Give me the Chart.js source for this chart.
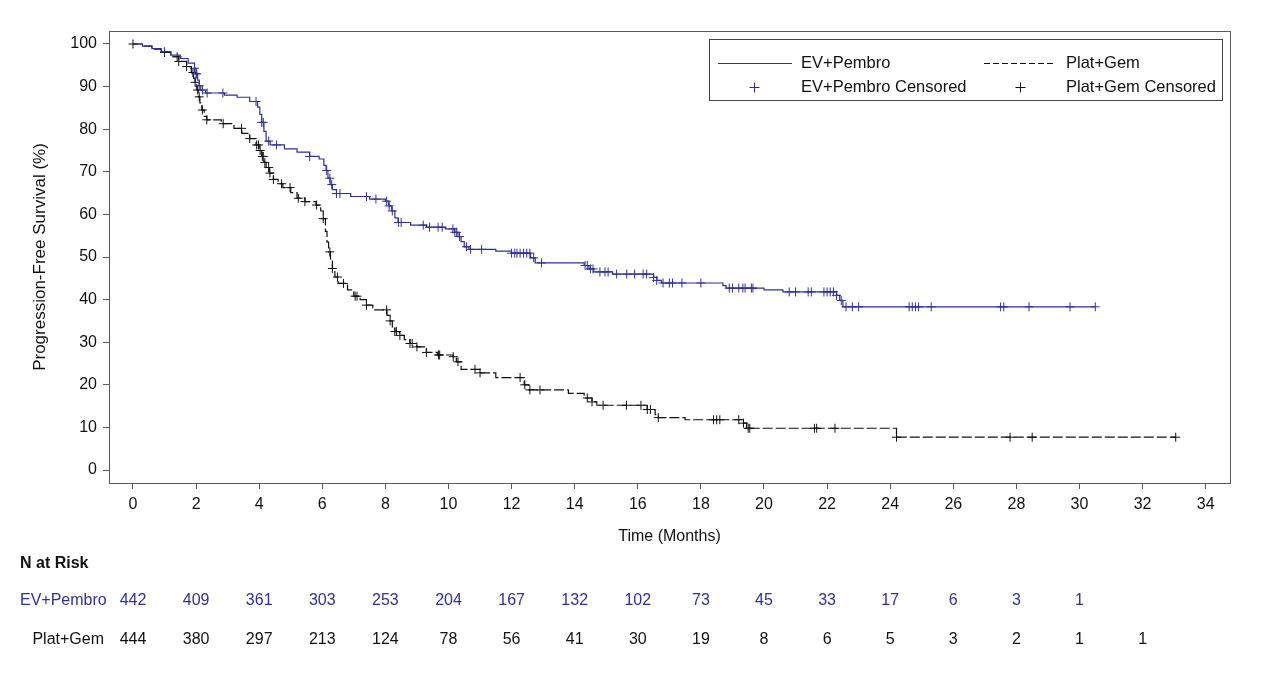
<!DOCTYPE html>
<html>
<head>
<meta charset="utf-8">
<script src="https://cdn.jsdelivr.net/npm/chart.js@4.4.1/dist/chart.umd.min.js"></script>
<style>
  body { margin: 0; background: #fff; }
  #wrap { width: 1263px; height: 675px; }
</style>
</head>
<body>
<div id="wrap"><canvas id="km" width="1263" height="675"></canvas></div>
<script>
// Kaplan-Meier steps: time of drop (months) and PFS (%) after that drop
const evTimes = [0, 0.3, 0.6, 0.9, 1.2, 1.5, 1.75, 1.95, 2.0, 2.05, 2.1, 2.15, 2.3, 2.9, 3.3, 3.7, 3.95, 4.02, 4.08, 4.15, 4.22, 4.35, 4.8, 5.2, 5.6, 5.9, 6.05, 6.12, 6.18, 6.25, 6.32, 6.45, 6.9, 7.5, 8.0, 8.1, 8.2, 8.3, 8.4, 8.8, 9.3, 9.9, 10.2, 10.3, 10.4, 10.5, 10.65, 11.5, 12.0, 12.6, 12.75, 14.3, 14.45, 14.6, 15.2, 16.5, 16.6, 16.75, 18.7, 18.8, 20.0, 20.6, 22.3, 22.4, 22.5, 30.5];
const evSurv = [100, 99.5, 98.9, 98.2, 97.4, 96.6, 95.5, 94.3, 93.0, 91.5, 90.2, 89.2, 88.5, 88.0, 87.5, 86.5, 85.2, 83.5, 81.6, 79.5, 77.2, 76.3, 75.4, 74.6, 73.6, 73.0, 71.5, 70.3, 68.5, 67.0, 65.8, 64.9, 64.2, 63.6, 63.1, 62.0, 60.8, 59.2, 58.1, 57.5, 57.0, 56.6, 55.8, 54.8, 53.6, 52.4, 51.8, 51.4, 50.9, 49.8, 48.6, 48.0, 47.2, 46.5, 46.0, 45.2, 44.5, 43.9, 43.3, 42.7, 42.3, 41.8, 41.0, 39.8, 38.3, 38.3];

const pgTimes = [0, 0.3, 0.6, 0.9, 1.2, 1.45, 1.7, 1.85, 1.92, 1.97, 2.02, 2.07, 2.12, 2.18, 2.26, 2.34, 2.8, 3.2, 3.45, 3.7, 3.9, 4.0, 4.08, 4.15, 4.22, 4.32, 4.45, 4.6, 4.75, 5.0, 5.2, 5.45, 5.8, 5.95, 6.03, 6.1, 6.15, 6.2, 6.26, 6.32, 6.4, 6.5, 6.8, 7.0, 7.2, 7.4, 7.6, 8.05, 8.15, 8.22, 8.3, 8.45, 8.6, 8.78, 9.0, 9.3, 9.65, 10.15, 10.25, 10.4, 11.0, 11.5, 12.4, 12.55, 13.8, 14.3, 14.55, 14.7, 16.3, 16.55, 16.65, 17.5, 19.35, 19.45, 24.2, 33.05];
const pgSurv = [100, 99.5, 98.8, 98.0, 97.0, 95.9, 94.7, 93.3, 92.0, 91.0, 89.2, 87.6, 86.2, 84.5, 83.0, 82.2, 81.3, 80.2, 79.0, 77.8, 76.3, 75.0, 73.6, 72.2, 71.0, 69.7, 68.2, 67.2, 66.3, 65.1, 63.8, 63.0, 62.2, 60.8, 59.0, 56.0, 53.5, 51.2, 49.5, 47.3, 45.3, 43.8, 42.3, 40.8, 40.0, 38.7, 37.6, 36.3, 35.0, 33.6, 32.5, 31.6, 30.6, 29.7, 28.9, 27.6, 27.0, 26.6, 25.4, 23.6, 22.8, 21.7, 20.0, 18.8, 18.0, 16.9, 16.0, 15.2, 14.2, 13.0, 12.3, 11.8, 11.0, 9.8, 7.7, 7.7];

// censoring times (months)
const evCensored = [1.0, 1.95, 2.0, 2.02, 2.1, 2.2, 2.35, 2.85, 3.9, 4.08, 4.13, 4.3, 4.55, 5.6, 6.14, 6.24, 6.3, 6.45, 6.56, 7.4, 7.7, 8.04, 8.12, 8.22, 8.42, 8.5, 9.2, 9.4, 9.67, 9.8, 10.14, 10.2, 10.26, 10.35, 10.57, 10.7, 11.05, 12.0, 12.1, 12.17, 12.27, 12.38, 12.48, 12.58, 12.7, 12.95, 14.33, 14.4, 14.5, 14.58, 14.8, 14.96, 15.06, 15.33, 15.65, 15.9, 16.17, 16.28, 16.5, 16.6, 16.8, 17.0, 17.1, 17.4, 18.0, 18.9, 19.0, 19.2, 19.33, 19.4, 19.6, 19.65, 20.8, 21.0, 21.4, 21.5, 21.9, 22.0, 22.1, 22.2, 22.3, 22.45, 22.6, 22.8, 23.0, 24.6, 24.7, 24.8, 24.9, 25.3, 27.5, 27.6, 28.4, 29.7, 30.5];
const pgCensored = [0, 1.0, 1.4, 1.45, 1.7, 1.9, 1.97, 2.05, 2.1, 2.2, 2.34, 2.86, 3.44, 3.7, 3.92, 3.98, 4.03, 4.1, 4.13, 4.18, 4.3, 4.34, 4.45, 4.71, 4.98, 5.24, 5.45, 5.82, 6.03, 6.24, 6.32, 6.48, 6.67, 7.04, 7.1, 7.4, 8.04, 8.15, 8.3, 8.35, 8.46, 8.78, 8.85, 9.0, 9.3, 9.68, 9.72, 10.15, 10.3, 10.84, 11.0, 12.27, 12.42, 12.58, 12.9, 14.4, 14.55, 14.9, 15.64, 16.1, 16.3, 16.4, 16.65, 18.4, 18.5, 18.6, 19.2, 19.35, 19.5, 19.55, 21.6, 21.67, 22.25, 24.2, 27.8, 28.5, 33.05];

const xTickValues = [0, 2, 4, 6, 8, 10, 12, 14, 16, 18, 20, 22, 24, 26, 28, 30, 32, 34];
const yTickValues = [0, 10, 20, 30, 40, 50, 60, 70, 80, 90, 100];

const riskTimes = [0, 2, 4, 6, 8, 10, 12, 14, 16, 18, 20, 22, 24, 26, 28, 30, 32];
const evRisk = [442, 409, 361, 303, 253, 204, 167, 132, 102, 73, 45, 33, 17, 6, 3, 1];
const pgRisk = [444, 380, 297, 213, 124, 78, 56, 41, 30, 19, 8, 6, 5, 3, 2, 1, 1];

const BLUE = "#30309a";
const BLACK = "#111111";
const AXIS = "#5a5a5a";
const FONT = "'Liberation Sans', Arial, sans-serif";

function survAt(times, surv, t) {
  let v = surv[0];
  for (let i = 0; i < times.length; i++) {
    if (times[i] <= t) v = surv[i];
  }
  return v;
}

function steps(times, surv) {
  return times.map((t, i) => ({ x: t, y: surv[i] }));
}

function marks(cens, times, surv) {
  return cens.map(t => ({ x: t, y: survAt(times, surv, t) }));
}

// frame, legend box and the number-at-risk table
const extras = {
  id: "extras",
  afterDraw(chart) {
    const ctx = chart.ctx;
    const a = chart.chartArea;
    const xs = chart.scales.x;
    ctx.save();

    ctx.strokeStyle = AXIS;
    ctx.lineWidth = 1;
    ctx.strokeRect(a.left + 0.5, a.top + 0.5, a.right - a.left, a.bottom - a.top);

    // legend
    ctx.strokeStyle = "#444";
    ctx.strokeRect(709.5, 39.5, 513, 61);
    ctx.font = "16.5px " + FONT;
    ctx.textBaseline = "middle";
    ctx.textAlign = "left";
    ctx.strokeStyle = BLUE;
    ctx.beginPath(); ctx.moveTo(718, 63.5); ctx.lineTo(792, 63.5); ctx.stroke();
    ctx.strokeStyle = BLACK;
    ctx.setLineDash([6, 3]);
    ctx.beginPath(); ctx.moveTo(984, 63.5); ctx.lineTo(1056, 63.5); ctx.stroke();
    ctx.setLineDash([]);
    const cross = (x, y, c) => {
      ctx.strokeStyle = c;
      ctx.beginPath();
      ctx.moveTo(x - 5, y); ctx.lineTo(x + 5, y);
      ctx.moveTo(x, y - 5); ctx.lineTo(x, y + 5);
      ctx.stroke();
    };
    cross(754.5, 87.5, BLUE);
    cross(1020.5, 87.5, BLACK);
    ctx.fillStyle = "#111";
    ctx.fillText("EV+Pembro", 801, 63);
    ctx.fillText("EV+Pembro Censored", 801, 87);
    ctx.fillText("Plat+Gem", 1066, 63);
    ctx.fillText("Plat+Gem Censored", 1066, 87);

    // number at risk
    ctx.font = "bold 16px " + FONT;
    ctx.fillStyle = "#111";
    ctx.fillText("N at Risk", 20, 564);
    ctx.font = "16px " + FONT;
    ctx.fillStyle = BLUE;
    ctx.fillText("EV+Pembro", 20, 601);
    ctx.textAlign = "right";
    ctx.fillStyle = "#111";
    ctx.fillText("Plat+Gem", 104, 640);
    ctx.textAlign = "center";
    ctx.fillStyle = BLUE;
    evRisk.forEach((n, i) => ctx.fillText(String(n), xs.getPixelForValue(riskTimes[i]), 601));
    ctx.fillStyle = "#111";
    pgRisk.forEach((n, i) => ctx.fillText(String(n), xs.getPixelForValue(riskTimes[i]), 640));
    ctx.restore();
  }
};

new Chart(document.getElementById("km"), {
  type: "scatter",
  data: {
    datasets: [
      {
        label: "EV+Pembro",
        data: steps(evTimes, evSurv),
        showLine: true,
        stepped: "before",
        borderColor: BLUE,
        borderWidth: 1.2,
        pointRadius: 0
      },
      {
        label: "Plat+Gem",
        data: steps(pgTimes, pgSurv),
        showLine: true,
        stepped: "before",
        borderColor: BLACK,
        borderWidth: 1.2,
        borderDash: [10, 3],
        pointRadius: 0
      },
      {
        label: "EV+Pembro Censored",
        data: marks(evCensored, evTimes, evSurv),
        showLine: false,
        pointStyle: "cross",
        pointRadius: 4.5,
        borderColor: BLUE,
        backgroundColor: BLUE,
        borderWidth: 1
      },
      {
        label: "Plat+Gem Censored",
        data: marks(pgCensored, pgTimes, pgSurv),
        showLine: false,
        pointStyle: "cross",
        pointRadius: 4.5,
        borderColor: BLACK,
        backgroundColor: BLACK,
        borderWidth: 1
      }
    ]
  },
  options: {
    responsive: false,
    animation: false,
    devicePixelRatio: 1,
    layout: { padding: { left: 0, top: 31, right: 33, bottom: 126 } },
    plugins: { legend: { display: false }, tooltip: { enabled: false } },
    scales: {
      x: {
        type: "linear",
        min: -0.76,
        max: 34.77,
        afterBuildTicks: (s) => { s.ticks = xTickValues.map(v => ({ value: v })); },
        afterFit: (s) => { s.height = 66; },
        ticks: { color: "#111", font: { family: FONT, size: 16 }, padding: 6, maxRotation: 0 },
        grid: { drawOnChartArea: false, drawTicks: true, tickLength: 6, color: AXIS },
        border: { color: AXIS },
        title: { display: true, text: "Time (Months)", color: "#111", font: { family: FONT, size: 16 }, padding: { top: 0, bottom: 3 } }
      },
      y: {
        type: "linear",
        min: -3.05,
        max: 103.05,
        afterBuildTicks: (s) => { s.ticks = yTickValues.map(v => ({ value: v })); },
        afterFit: (s) => { s.width = 109; },
        ticks: { color: "#111", font: { family: FONT, size: 16 }, padding: 6 },
        grid: { drawOnChartArea: false, drawTicks: true, tickLength: 6, color: AXIS },
        border: { color: AXIS },
        title: { display: true, text: "Progression-Free Survival (%)", color: "#111", font: { family: FONT, size: 17 }, padding: { top: 30, bottom: 0 } }
      }
    }
  },
  plugins: [extras]
});
</script>
</body>
</html>
